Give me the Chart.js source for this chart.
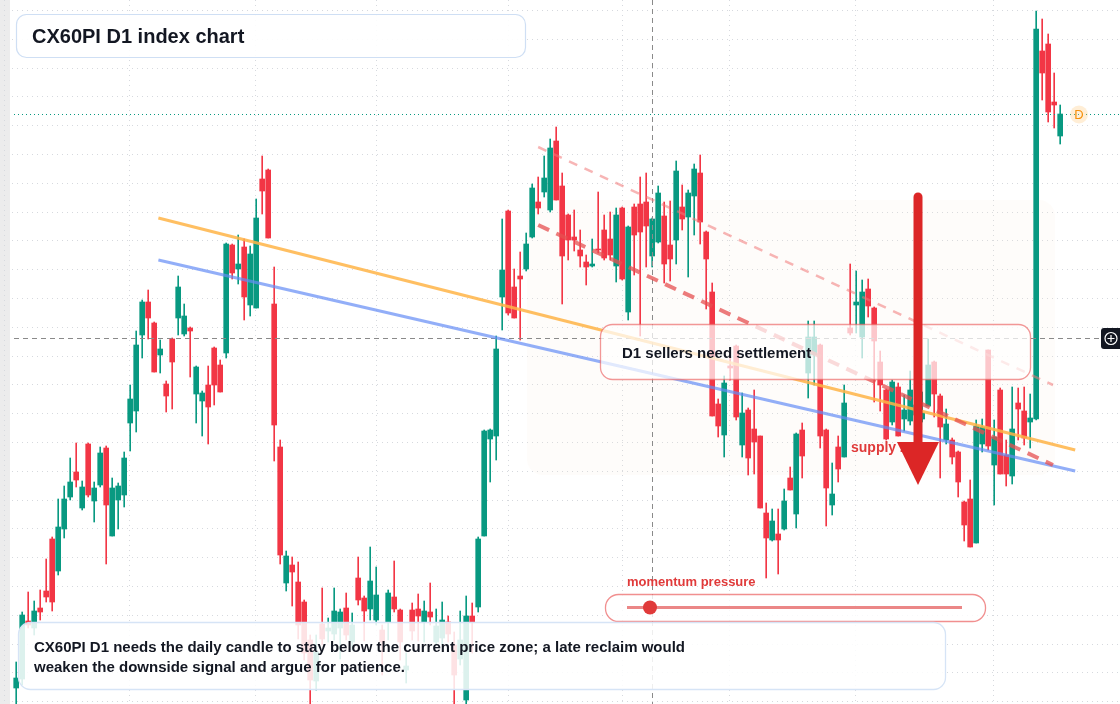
<!DOCTYPE html>
<html>
<head>
<meta charset="utf-8">
<script src="https://cdn.jsdelivr.net/npm/chart.js@4"></script>
<style>
  html, body { margin: 0; padding: 0; background: #fff; }
  canvas { display: block; }
</style>
</head>
<body>
<canvas id="chart" width="1120" height="704"></canvas>
<script>
// daily OHLC, one entry per session
const opens  = [2312,2321,2379,2372,2392,2409,2461,2429,2471,2503,2528,2492,2556,2499,2515,2552,2464,2500,2505,2577,2589,2665,2698,2677,2645,2616,2661,2682,2666,2672,2606,2599,2615,2652,2635,2647,2755,2731,2753,2695,2692,2821,2830,2696,2553,2417,2435,2418,2398,2360,2319,2376,2369,2366,2372,2392,2358,2422,2402,2391,2380,2370,2378,2403,2390,2330,2390,2391,2378,2388,2358,2362,2378,2355,2341,2300,2384,2393,2464,2561,2564,2703,2789,2713,2724,2731,2763,2798,2808,2790,2859,2814,2785,2763,2750,2738,2734,2751,2770,2761,2734,2792,2688,2793,2796,2798,2744,2758,2784,2755,2760,2793,2783,2804,2827,2768,2708,2596,2565,2634,2654,2555,2590,2571,2564,2487,2460,2466,2471,2522,2486,2570,2627,2645,2655,2570,2495,2553,2543,2672,2695,2663,2711,2692,2638,2610,2578,2613,2581,2579,2585,2581,2594,2638,2604,2560,2560,2548,2498,2501,2457,2556,2650,2535,2610,2545,2524,2597,2589,2578,2581,2949,2956,2898,2864];
const highs  = [2338,2388,2408,2399,2410,2441,2463,2501,2514,2542,2557,2519,2557,2518,2553,2554,2522,2517,2548,2615,2669,2700,2710,2678,2660,2619,2662,2724,2696,2673,2634,2609,2634,2653,2640,2757,2756,2765,2761,2754,2801,2844,2831,2733,2560,2449,2443,2438,2400,2365,2365,2412,2382,2412,2391,2407,2387,2443,2404,2453,2433,2375,2410,2439,2391,2347,2397,2406,2399,2417,2391,2398,2384,2368,2389,2404,2397,2463,2570,2571,2664,2781,2790,2731,2748,2767,2816,2823,2844,2861,2873,2827,2786,2790,2770,2745,2761,2808,2785,2788,2792,2793,2774,2796,2823,2827,2782,2814,2798,2799,2839,2815,2810,2836,2845,2769,2717,2601,2624,2645,2655,2607,2592,2610,2564,2497,2491,2491,2511,2533,2567,2577,2679,2679,2656,2571,2537,2564,2615,2736,2729,2720,2721,2693,2649,2611,2620,2617,2605,2629,2615,2608,2661,2639,2606,2591,2562,2549,2499,2520,2580,2581,2650,2580,2612,2560,2613,2612,2613,2606,2989,2981,2966,2927,2895];
const lows   = [2296,2315,2372,2365,2380,2398,2389,2425,2462,2500,2513,2490,2503,2478,2513,2436,2464,2471,2493,2549,2568,2642,2661,2628,2627,2588,2591,2665,2664,2623,2577,2564,2556,2595,2608,2642,2721,2716,2680,2684,2692,2786,2762,2539,2436,2409,2394,2361,2340,2296,2310,2355,2358,2360,2341,2360,2350,2395,2359,2380,2375,2325,2360,2388,2340,2317,2360,2359,2358,2375,2355,2355,2358,2296,2335,2296,2347,2388,2464,2518,2540,2670,2685,2682,2660,2729,2762,2786,2803,2788,2800,2696,2740,2749,2733,2715,2733,2747,2740,2740,2718,2720,2680,2725,2664,2733,2733,2757,2717,2719,2736,2770,2723,2765,2756,2691,2584,2563,2543,2620,2580,2543,2525,2526,2492,2422,2459,2426,2470,2510,2472,2522,2602,2615,2552,2474,2485,2518,2543,2665,2667,2642,2683,2598,2589,2560,2575,2564,2569,2575,2580,2578,2594,2583,2522,2556,2536,2503,2459,2453,2457,2548,2550,2495,2526,2514,2516,2560,2555,2552,2580,2900,2878,2872,2856];
const closes = [2322,2385,2375,2389,2388,2403,2398,2473,2501,2518,2520,2513,2505,2512,2547,2495,2512,2514,2542,2601,2655,2698,2682,2628,2651,2604,2638,2713,2684,2669,2633,2607,2593,2615,2608,2756,2727,2736,2703,2746,2782,2809,2762,2575,2445,2444,2428,2375,2347,2320,2348,2361,2372,2389,2388,2365,2375,2400,2389,2419,2405,2358,2407,2391,2358,2334,2369,2384,2389,2383,2374,2380,2366,2325,2360,2384,2378,2461,2569,2570,2651,2730,2687,2682,2721,2756,2812,2792,2822,2852,2800,2744,2760,2760,2744,2733,2736,2750,2742,2745,2785,2721,2773,2765,2768,2774,2781,2807,2736,2741,2829,2781,2807,2831,2778,2741,2584,2574,2617,2632,2583,2587,2542,2558,2492,2462,2479,2460,2499,2510,2566,2544,2663,2663,2564,2512,2506,2531,2597,2667,2698,2708,2694,2659,2615,2561,2618,2564,2590,2610,2595,2587,2635,2606,2573,2576,2543,2518,2475,2453,2574,2573,2554,2563,2526,2526,2571,2591,2562,2582,2971,2927,2888,2895,2886];

// reference lines: [startIndex, startPrice, endIndex, endPrice]
const orangeTrend = [23.7, 2782, 176.5, 2550];
const blueTrend   = [23.7, 2740, 176.5, 2529];
const upperChannel = [87, 2853, 172.8, 2615];
const lowerChannel = [87, 2775, 172.8, 2535];
const markedLevel = 2662;
const markedSession = 106;

const UP = '#089981';
const DOWN = '#f23645';

const idx = opens.map((_, i) => i);
const colors = idx.map(i => closes[i] >= opens[i] ? UP : DOWN);
const bodies = idx.map(i => ({ x: i, y: opens[i] === closes[i] ? [opens[i], closes[i] + 1] : [opens[i], closes[i]] }));
const wicks = idx.map(i => ({ x: i, y: [lows[i], highs[i]] }));

function roundRect(ctx, x, y, w, h, r) {
  ctx.beginPath();
  ctx.moveTo(x + r, y);
  ctx.arcTo(x + w, y, x + w, y + h, r);
  ctx.arcTo(x + w, y + h, x, y + h, r);
  ctx.arcTo(x, y + h, x, y, r);
  ctx.arcTo(x, y, x + w, y, r);
  ctx.closePath();
}

// grid and shaded zone behind candles
const backdrop = {
  id: 'backdrop',
  beforeDatasetsDraw(chart) {
    const ctx = chart.ctx;
    ctx.save();
    ctx.fillStyle = '#ececec';
    ctx.fillRect(0, 0, 10, 704);
    ctx.strokeStyle = '#d6d9de';
    ctx.setLineDash([1, 4]);
    ctx.lineWidth = 1;
    for (let y = 10; y < 704; y += 28.8) {
      ctx.beginPath(); ctx.moveTo(12, Math.round(y) + 0.5); ctx.lineTo(1120, Math.round(y) + 0.5); ctx.stroke();
    }
    [4, 129, 255, 376, 508, 622, 729, 855, 993].forEach(x => {
      ctx.beginPath(); ctx.moveTo(x + 0.5, 0); ctx.lineTo(x + 0.5, 704); ctx.stroke();
    });
    ctx.setLineDash([]);
    ctx.fillStyle = 'rgba(250,232,220,0.13)';
    roundRect(ctx, 527, 200, 528, 275, 16);
    ctx.fill();
    ctx.restore();
  }
};

const overlay = {
  id: 'overlay',
  afterDatasetsDraw(chart) {
    const ctx = chart.ctx;
    const xs = chart.scales.x, ys = chart.scales.y;
    const line = (seg, color, width, dash) => {
      ctx.save();
      ctx.strokeStyle = color; ctx.lineWidth = width; ctx.setLineDash(dash || []);
      ctx.beginPath();
      ctx.moveTo(xs.getPixelForValue(seg[0]), ys.getPixelForValue(seg[1]));
      ctx.lineTo(xs.getPixelForValue(seg[2]), ys.getPixelForValue(seg[3]));
      ctx.stroke();
      ctx.restore();
    };
    ctx.save();
    // marked level and session
    const ly = Math.round(ys.getPixelForValue(markedLevel)) + 0.5;
    ctx.strokeStyle = '#8a8a8a'; ctx.lineWidth = 1; ctx.setLineDash([5, 4]);
    ctx.beginPath(); ctx.moveTo(14, ly); ctx.lineTo(1100, ly); ctx.stroke();
    const lx = Math.round(xs.getPixelForValue(markedSession)) + 0.5;
    ctx.beginPath(); ctx.moveTo(lx, 0); ctx.lineTo(lx, 704); ctx.stroke();
    // last price line
    const last = closes[closes.length - 1];
    const py = Math.round(ys.getPixelForValue(last)) + 0.5;
    ctx.strokeStyle = '#089981'; ctx.setLineDash([1, 3]);
    ctx.beginPath(); ctx.moveTo(14, py); ctx.lineTo(1120, py); ctx.stroke();
    ctx.setLineDash([]);
    ctx.fillStyle = 'rgba(255,200,120,0.3)';
    ctx.beginPath(); ctx.arc(1079, py, 9, 0, Math.PI * 2); ctx.fill();
    ctx.fillStyle = '#f5900a'; ctx.font = '13px "Liberation Sans", Arial, sans-serif';
    ctx.textAlign = 'center'; ctx.textBaseline = 'middle';
    ctx.fillText('D', 1079, py + 1);
    ctx.restore();

    line(orangeTrend, 'rgba(255,180,70,0.85)', 3);
    line(blueTrend, 'rgba(100,140,245,0.7)', 3);
    line(upperChannel, 'rgba(240,120,120,0.55)', 2.5, [9, 8]);
    line(lowerChannel, 'rgba(230,80,80,0.75)', 4, [12, 8]);

    ctx.save();
    ctx.font = 'bold 14px "Liberation Sans", Arial, sans-serif';
    ctx.fillStyle = '#e03a3a'; ctx.textBaseline = 'middle';
    ctx.fillText('supply zone', 851, 448);

    // title
    ctx.fillStyle = 'rgba(255,255,255,0.9)';
    roundRect(ctx, 16.5, 14.5, 509, 43, 10); ctx.fill();
    ctx.strokeStyle = '#cfdff4'; ctx.lineWidth = 1.2; ctx.stroke();
    ctx.fillStyle = '#131722'; ctx.font = 'bold 20px "Liberation Sans", Arial, sans-serif';
    ctx.fillText('CX60PI D1 index chart', 32, 37);

    // settlement box
    ctx.fillStyle = 'rgba(255,255,255,0.72)';
    roundRect(ctx, 600.5, 324.5, 430, 55, 12); ctx.fill();
    ctx.strokeStyle = 'rgba(235,95,95,0.65)'; ctx.lineWidth = 1.3; ctx.stroke();
    ctx.fillStyle = '#131722'; ctx.font = 'bold 15px "Liberation Sans", Arial, sans-serif';
    ctx.fillText('D1 sellers need settlement', 622, 354);

    // arrow
    ctx.strokeStyle = '#dc2626'; ctx.lineWidth = 9; ctx.lineCap = 'round';
    ctx.beginPath(); ctx.moveTo(918, 197); ctx.lineTo(918, 445); ctx.stroke();
    ctx.fillStyle = '#dc2626';
    ctx.beginPath(); ctx.moveTo(897, 442); ctx.lineTo(939, 442); ctx.lineTo(918, 485); ctx.closePath(); ctx.fill();

    // momentum slider
    ctx.font = 'bold 13px "Liberation Sans", Arial, sans-serif';
    ctx.fillStyle = '#e03a3a';
    ctx.fillText('momentum pressure', 627, 582);
    ctx.fillStyle = 'rgba(255,255,255,0.8)';
    roundRect(ctx, 605.5, 594.5, 380, 27, 13); ctx.fill();
    ctx.strokeStyle = 'rgba(235,95,95,0.7)'; ctx.lineWidth = 1.3; ctx.stroke();
    ctx.strokeStyle = 'rgba(225,70,70,0.65)'; ctx.lineWidth = 3; ctx.lineCap = 'butt';
    ctx.beginPath(); ctx.moveTo(627, 607.5); ctx.lineTo(962, 607.5); ctx.stroke();
    ctx.fillStyle = '#e03a3a';
    ctx.beginPath(); ctx.arc(650, 607.5, 7, 0, Math.PI * 2); ctx.fill();

    // bottom note
    ctx.fillStyle = 'rgba(255,255,255,0.86)';
    roundRect(ctx, 18.5, 622.5, 927, 67, 12); ctx.fill();
    ctx.strokeStyle = '#d6e4f6'; ctx.lineWidth = 1.3; ctx.stroke();
    ctx.fillStyle = '#131722'; ctx.font = 'bold 15px "Liberation Sans", Arial, sans-serif';
    ctx.fillText('CX60PI D1 needs the daily candle to stay below the current price zone; a late reclaim would', 34, 648);
    ctx.fillText('weaken the downside signal and argue for patience.', 34, 668);

    // crosshair button
    ctx.fillStyle = '#131722';
    roundRect(ctx, 1101, 328, 22, 21, 3); ctx.fill();
    ctx.strokeStyle = '#fff'; ctx.lineWidth = 1.2;
    ctx.beginPath(); ctx.arc(1111, 338.5, 6, 0, Math.PI * 2); ctx.stroke();
    ctx.beginPath(); ctx.moveTo(1107.5, 338.5); ctx.lineTo(1114.5, 338.5); ctx.moveTo(1111, 335); ctx.lineTo(1111, 342); ctx.stroke();
    ctx.restore();
  }
};

new Chart(document.getElementById('chart'), {
  type: 'bar',
  data: {
    datasets: [{
      label: 'wick',
      data: wicks,
      backgroundColor: colors,
      barThickness: 1,
      grouped: false,
      order: 2
    }, {
      label: 'body',
      data: bodies,
      backgroundColor: colors,
      barThickness: 5,
      grouped: false,
      order: 1
    }]
  },
  options: {
    responsive: false,
    animation: false,
    devicePixelRatio: 1,
    layout: { padding: 0 },
    plugins: { legend: { display: false }, tooltip: { enabled: false } },
    scales: {
      x: { type: 'linear', display: false, min: -2.7, max: 183.97, offset: false },
      y: { display: false, min: 2296, max: 3000 }
    }
  },
  plugins: [backdrop, overlay]
});
</script>
</body>
</html>
